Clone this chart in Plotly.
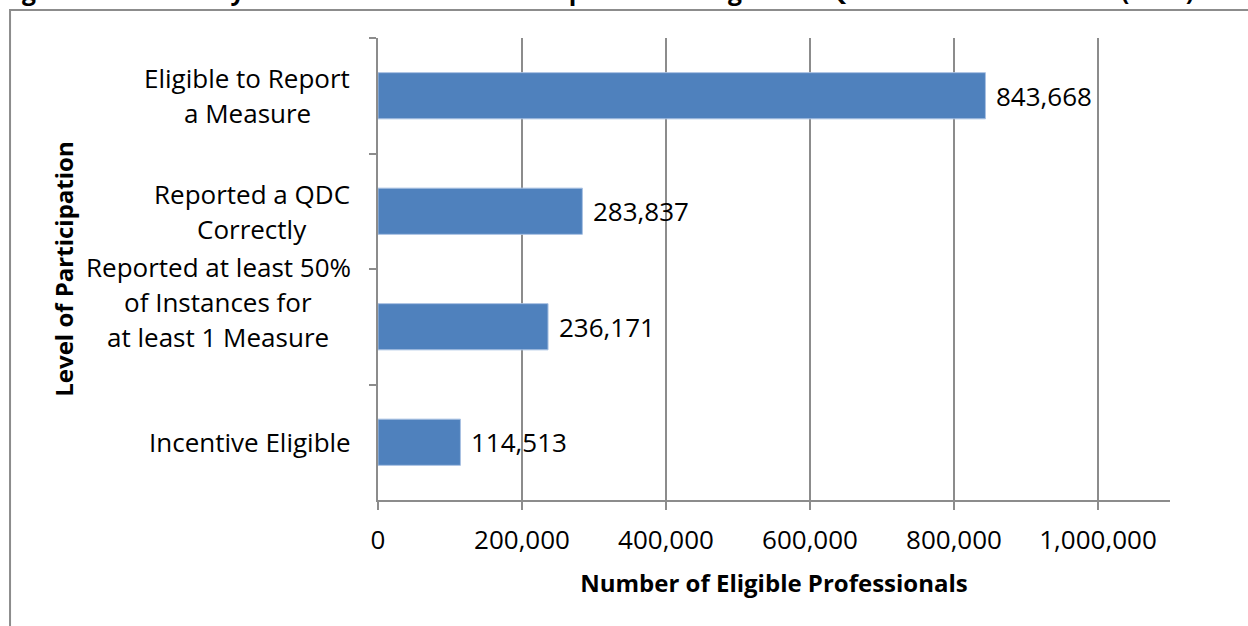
import plotly.graph_objects as go

# Participation levels, top to bottom
categories = [
    "Eligible to Report<br>a Measure",
    "Reported a QDC<br>Correctly",
    "Reported at least 50%<br>of Instances for<br>at least 1 Measure",
    "Incentive Eligible",
]
professionals = [843668, 283837, 236171, 114513]
x_ticks = [0, 200000, 400000, 600000, 800000, 1000000]
x_tick_labels = ["0", "200,000", "400,000", "600,000", "800,000", "1,000,000"]

title_text = ("Figure 10: Summary of Individual Measures Reported through the "
              "PQRS Claims Mechanism (2014)")

FONT = "Open Sans"
FS = 26            # regular text
FS_BOLD = 24       # bold axis titles
GRID = "#8c8c8c"
PLOT_LEFT = 378    # left margin in px

# layout of the wrapped category labels
LINE_GAP = 35                           # px between wrapped lines
LABEL_CENTER_PX = [247, 252, 218, 250]  # horizontal centre of each label block
LABEL_RAISE = [0, 0, 25, 0]             # the three-line label sits above its bar

fig = go.Figure()
fig.add_trace(go.Bar(
    x=professionals,
    y=categories,
    orientation="h",
    marker=dict(color="#4f81bd", line=dict(color="#a9c1e2", width=1)),
    hoverinfo="x+y",
))

annotations = []
# value labels to the right of each bar
for cat, val in zip(categories, professionals):
    annotations.append(dict(
        x=val, y=cat, xref="x", yref="y", text=f"{val:,}",
        xanchor="left", yanchor="middle", xshift=9, showarrow=False,
        font=dict(family=FONT, size=FS, color="black"),
    ))

# category labels, one annotation per line, lines centred on the block
for idx, cat in enumerate(categories):
    lines = cat.split("<br>")
    n = len(lines)
    for i, ln in enumerate(lines):
        offset = (i - (n - 1) / 2) * LINE_GAP
        annotations.append(dict(
            x=0, y=cat, xref="paper", yref="y", text=ln,
            xanchor="center", yanchor="middle",
            xshift=LABEL_CENTER_PX[idx] - PLOT_LEFT,
            yshift=-offset + LABEL_RAISE[idx], showarrow=False,
            font=dict(family=FONT, size=FS, color="black"),
        ))

# document caption above the chart frame
annotations.append(dict(
    x=-0.478, y=1.062, xref="paper", yref="paper", text=f"<b>{title_text}</b>",
    xanchor="left", yanchor="bottom", showarrow=False,
    font=dict(family=FONT, size=24.7, color="black"),
))

fig.update_layout(
    width=1248, height=626,
    margin=dict(l=PLOT_LEFT, r=78, t=38, b=126),
    paper_bgcolor="white", plot_bgcolor="white",
    bargap=0.6,
    showlegend=False,
    font=dict(family=FONT, size=FS, color="black"),
    annotations=annotations,
    shapes=[dict(
        type="rect", xref="paper", yref="paper",
        x0=-0.4646, x1=1.2, y0=-0.4, y1=1.0606,
        line=dict(color="#8c8c8c", width=2), fillcolor="rgba(0,0,0,0)",
    )],
    xaxis=dict(
        range=[0, 1100000],
        tickvals=x_ticks, ticktext=x_tick_labels,
        showgrid=True, gridcolor=GRID, gridwidth=1.5,
        showline=True, linecolor=GRID, linewidth=1.5,
        ticks="outside", ticklen=8, tickcolor=GRID, tickwidth=1.5,
        ticklabelstandoff=8,
        zeroline=False,
        tickfont=dict(family=FONT, size=FS, color="black"),
        title=dict(text="<b>Number of Eligible Professionals</b>",
                   font=dict(family=FONT, size=FS_BOLD, color="black"), standoff=19),
    ),
    yaxis=dict(
        autorange="reversed",
        showticklabels=False,
        showgrid=False,
        showline=True, linecolor=GRID, linewidth=1.5,
        ticks="outside", ticklen=7, tickcolor=GRID, tickwidth=1.5,
        tickson="boundaries",
        title=dict(text="<b>Level of Participation</b>",
                   font=dict(family=FONT, size=FS_BOLD, color="black"), standoff=296),
    ),
)

fig.write_html("out.html")
